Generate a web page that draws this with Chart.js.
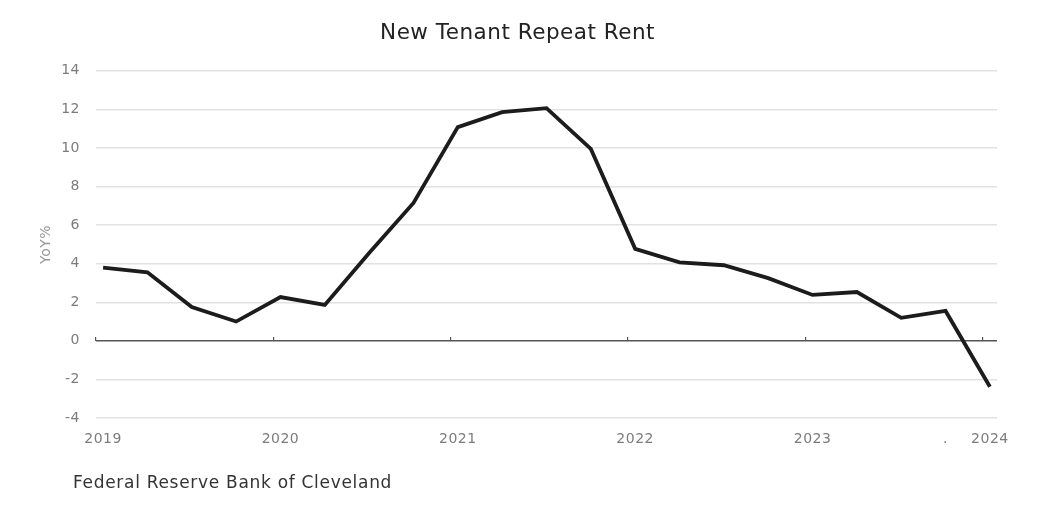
<!DOCTYPE html>
<html>
<head>
<meta charset="utf-8">
<script src="https://cdn.jsdelivr.net/npm/chart.js@4/dist/chart.umd.min.js"></script>
<style>
  html, body { margin: 0; padding: 0; background: #fff; }
  #wrap { position: relative; width: 1042px; height: 507px; }
  #source { position: absolute; left: 73px; top: 472px; font: 17px "DejaVu Sans", sans-serif; color: #333; letter-spacing: 0.7px; }
</style>
</head>
<body>
<div id="wrap">
  <canvas id="chart" width="1042" height="507"></canvas>
  <div id="source">Federal Reserve Bank of Cleveland</div>
</div>
<script>
// quarterly YoY % change, 2019Q1 .. 2024Q1
const quarters = ['2019Q1','2019Q2','2019Q3','2019Q4','2020Q1','2020Q2','2020Q3','2020Q4',
  '2021Q1','2021Q2','2021Q3','2021Q4','2022Q1','2022Q2','2022Q3','2022Q4',
  '2023Q1','2023Q2','2023Q3','2023Q4','2024Q1'];
const yoy = [3.8, 3.55, 1.75, 1.0, 2.27, 1.86, 4.55, 7.15, 11.08, 11.86, 12.06, 9.95,
  4.77, 4.07, 3.92, 3.25, 2.38, 2.53, 1.19, 1.55, -2.38];
const tickIdx = [0, 4, 8, 12, 16, 19, 20];
const tickText = ['2019', '2020', '2021', '2022', '2023', '.', '2024'];
const yearIdx = [0, 4, 8, 12, 16, 20];
const yTicks = [-4, -2, 0, 2, 4, 6, 8, 10, 12, 14];

const gray = '#7c7c7c';
const font = { family: '"DejaVu Sans", sans-serif', size: 14 };

// the source picture's text is a bit stretched, so widen the letters a little
const spacing = {
  id: 'spacing',
  beforeUpdate: c => { c.ctx.letterSpacing = '0.5px'; },
  beforeDraw: c => { c.ctx.letterSpacing = '0.5px'; }
};

new Chart(document.getElementById('chart').getContext('2d'), {
  type: 'line',
  plugins: [spacing],
  data: {
    datasets: [{
      data: yoy.map((v, i) => ({ x: i, y: v })),
      borderColor: '#1c1c1c',
      borderWidth: 3.8,
      pointRadius: 0,
      tension: 0,
      borderJoinStyle: 'miter'
    }]
  },
  options: {
    responsive: false,
    animation: false,
    layout: { padding: { left: 38, right: 45, bottom: 49, top: 0 } },
    plugins: {
      legend: { display: false },
      tooltip: { enabled: false },
      title: {
        display: true,
        text: 'New Tenant Repeat Rent',
        color: '#222',
        font: { family: '"DejaVu Sans", sans-serif', size: 21.5, weight: 'normal' },
        padding: { top: 21, bottom: 24 }
      }
    },
    scales: {
      x: {
        type: 'linear',
        min: -0.16,
        max: 20.16,
        afterBuildTicks: s => { s.ticks = tickIdx.map(v => ({ value: v })); },
        afterFit: s => { s.height = 40; },
        grid: { display: false },
        border: { display: false },
        ticks: {
          color: gray,
          font,
          padding: 5,
          maxRotation: 0,
          autoSkip: false,
          callback: v => tickText[tickIdx.indexOf(v)]
        }
      },
      x2: {
        type: 'linear',
        position: { y: 0 },
        min: -0.16,
        max: 20.16,
        afterBuildTicks: s => { s.ticks = yearIdx.map(v => ({ value: v - 0.16 })); },
        grid: { drawOnChartArea: false, drawTicks: true, tickLength: -4, color: '#555', lineWidth: 1.2 },
        border: { display: false },
        ticks: { display: false }
      },
      y: {
        min: -4,
        max: 14,
        afterBuildTicks: s => { s.ticks = yTicks.map(v => ({ value: v })); },
        afterFit: s => { s.width = 58; },
        border: { display: false },
        grid: {
          drawTicks: false,
          color: c => c.tick && c.tick.value === 0 ? '#555' : '#e2e2e2',
          lineWidth: 1.5
        },
        ticks: { color: gray, font, padding: 16 },
        title: {
          display: true,
          text: 'YoY%',
          color: '#999',
          font,
          padding: 0
        }
      }
    }
  }
});
</script>
</body>
</html>
